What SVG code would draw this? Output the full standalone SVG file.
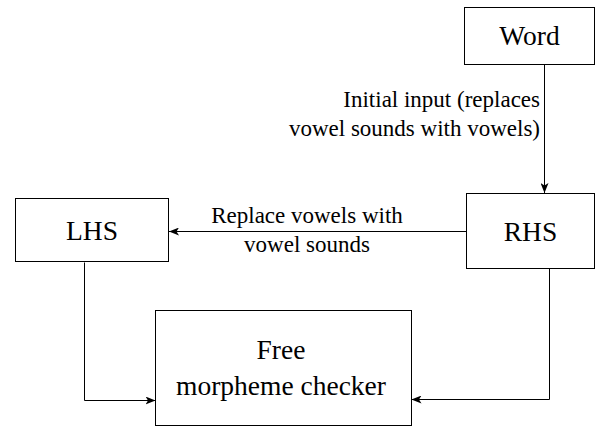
<svg xmlns="http://www.w3.org/2000/svg" width="595" height="430" viewBox="0 0 595 430">
  <defs>
    <marker id="arrow" viewBox="0 0 10 8" refX="10" refY="4" markerWidth="10" markerHeight="8" markerUnits="userSpaceOnUse" orient="auto">
      <path d="M0,0 L10,4 L0,8 L2.5,4 Z" fill="#000"/>
    </marker>
    <style>
      .box { fill: #fff; stroke: #000; stroke-width: 1; }
      .node-label { font-family: "Liberation Serif", "Times New Roman", serif; font-size: 27.5px; fill: #000; text-anchor: middle; }
      .edge { fill: none; stroke: #000; stroke-width: 1; marker-end: url(#arrow); }
      .edge-label { font-family: "Liberation Serif", "Times New Roman", serif; font-size: 23px; fill: #000; }
    </style>
  </defs>
  <rect width="595" height="430" fill="#fff"/>

  <g id="connectors">
    <path class="edge" d="M544.5,64.5 L544.5,193"/>
    <path class="edge" d="M466.5,231.5 L169,231.5"/>
    <path class="edge" d="M84.5,262.5 L84.5,400.5 L155.5,400.5"/>
    <path class="edge" d="M549.5,269 L549.5,399.5 L411.5,399.5"/>
    <text class="edge-label" text-anchor="end" x="540" y="107">Initial input (replaces</text>
    <text class="edge-label" text-anchor="end" x="540" y="136">vowel sounds with vowels)</text>
    <text class="edge-label" text-anchor="middle" x="307" y="223">Replace vowels with</text>
    <text class="edge-label" text-anchor="middle" x="307" y="252">vowel sounds</text>
  </g>

  <g id="node-word">
    <rect class="box" x="464.5" y="7.5" width="130" height="57"/>
    <text class="node-label" x="529.5" y="45">Word</text>
  </g>

  <g id="node-rhs">
    <rect class="box" x="466.5" y="193.5" width="128" height="75"/>
    <text class="node-label" x="530.5" y="240.5">RHS</text>
  </g>

  <g id="node-lhs">
    <rect class="box" x="15.5" y="198.5" width="153" height="63"/>
    <text class="node-label" x="92" y="240">LHS</text>
  </g>

  <g id="node-checker">
    <rect class="box" x="155.5" y="310.5" width="256" height="115"/>
    <text class="node-label" x="281" y="359">Free</text>
    <text class="node-label" x="281" y="395">morpheme checker</text>
  </g>
</svg>
